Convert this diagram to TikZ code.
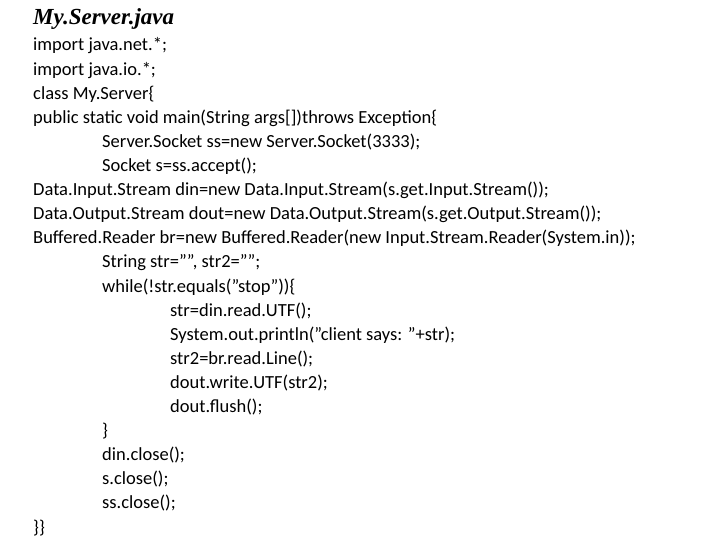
\documentclass[tikz,border=0pt]{standalone}
\usepackage{fontspec}
\setmainfont{Carlito}
\newfontfamily\titlefont{Liberation Serif}
\newcommand\dq{\char34\relax}
\tikzstyle{codeline} = [anchor=base west, inner sep=0pt, font=\fontsize{18.5}{20}\selectfont]
\tikzstyle{heading} = [anchor=base west, inner sep=0pt, font=\titlefont\fontsize{23}{26}\selectfont\bfseries\itshape]

\begin{document}
\begin{tikzpicture}[x=1pt, y=-1pt]
\useasboundingbox (0,0) rectangle (720,540);
\node (title) [heading] at (33,25) {My.Server.java};
\node (l1) [codeline] at (33,51) {import java.net.*;};
\node (l2) [codeline] at (33,75.1) {import java.io.*;};
\node (l3) [codeline] at (33,99.2) {class My.Server\{};
\node (l4) [codeline] at (33,123.3) {public static void main(String args[])throws Exception\{};
\node (l5) [codeline] at (102,147.4) {Server.Socket ss=new Server.Socket(3333);};
\node (l6) [codeline] at (102,171.5) {Socket s=ss.accept();};
\node (l7) [codeline] at (33,195.6) {Data.Input.Stream din=new Data.Input.Stream(s.get.Input.Stream());};
\node (l8) [codeline] at (33,219.7) {Data.Output.Stream dout=new Data.Output.Stream(s.get.Output.Stream());};
\node (l9) [codeline] at (33,243.8) {Buffered.Reader br=new Buffered.Reader(new Input.Stream.Reader(System.in));};
\node (l10) [codeline] at (102,267.9) {String str=\dq\dq, str2=\dq\dq;};
\node (l11) [codeline] at (102,292) {while(!str.equals(\dq stop\dq))\{};
\node (l12) [codeline] at (170,316.1) {str=din.read.UTF();};
\node (l13) [codeline] at (170,340.2) {System.out.println(\dq client says: \dq+str);};
\node (l14) [codeline] at (170,364.3) {str2=br.read.Line();};
\node (l15) [codeline] at (170,388.4) {dout.write.UTF(str2);};
\node (l16) [codeline] at (170,412.5) {dout.flush();};
\node (l17) [codeline] at (102,436.6) {\}};
\node (l18) [codeline] at (102,460.7) {din.close();};
\node (l19) [codeline] at (102,484.8) {s.close();};
\node (l20) [codeline] at (102,508.9) {ss.close();};
\node (l21) [codeline] at (33,533) {\}\}};
\end{tikzpicture}
\end{document}
